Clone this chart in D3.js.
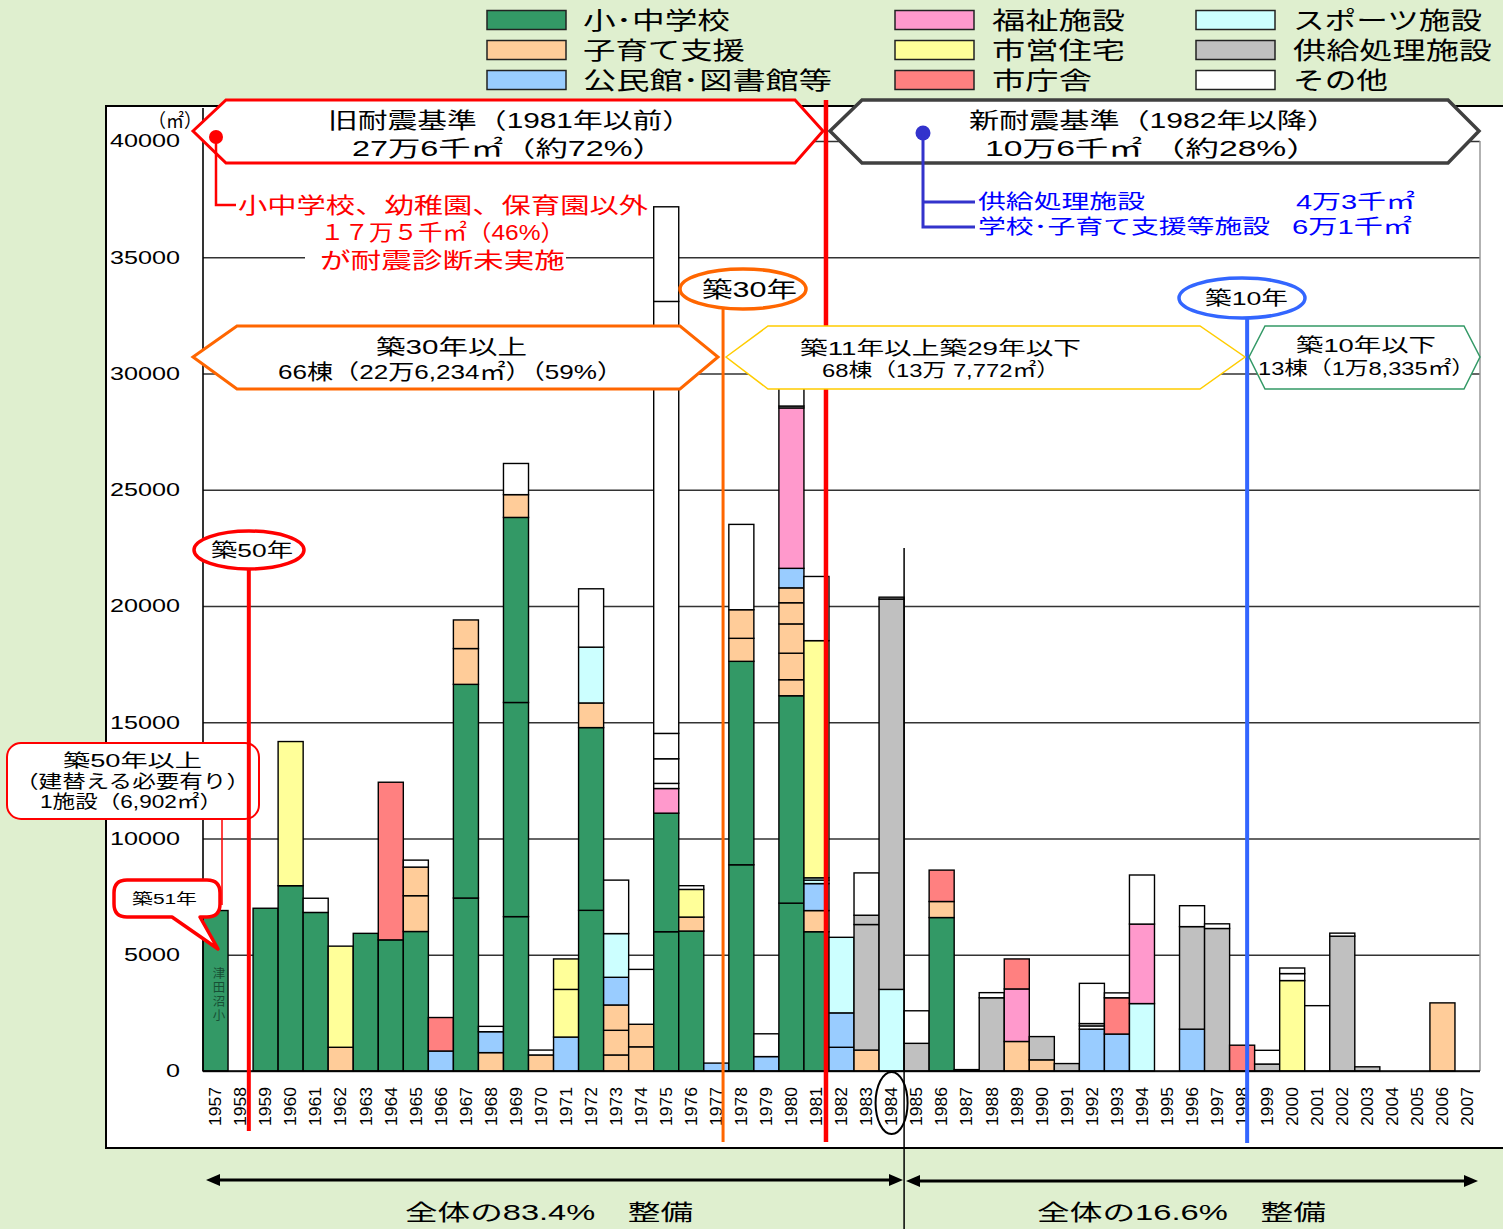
<!DOCTYPE html>
<html lang="ja">
<head>
<meta charset="utf-8">
<script src="https://cdn.jsdelivr.net/npm/d3@7"></script>
<style>
  html, body { margin: 0; padding: 0; background: #DFEFCF; }
  svg { display: block; }
  text { font-family: 'Liberation Sans', 'Noto Sans CJK JP', sans-serif; }
  .num { font-family: 'Liberation Sans', Arial, sans-serif; }
</style>
</head>
<body>
<script>
// 建築年度（横軸）
const years = ["1957","1958","1959","1960","1961","1962","1963","1964","1965","1966",
  "1967","1968","1969","1970","1971","1972","1973","1974","1975","1976","1977","1978",
  "1979","1980","1981","1982","1983","1984","1985","1986","1987","1988","1989","1990",
  "1991","1992","1993","1994","1995","1996","1997","1998","1999","2000","2001","2002",
  "2003","2004","2005","2006","2007"];

// 施設分類ごとの延床面積（㎡）。年度ごとに棟単位で積み上げる
const school = {1957:[6902],1959:[7000],1960:[7970],1961:[6820],1963:[5920],1964:[5640],
  1965:[6000],1967:[7440,9190],1969:[6640,9210,7960],1972:[6910,7860],1975:[5990,5100],
  1976:[6020],1978:[8870,8750],1980:[7220,8920],1981:[5990],1986:[6600]};
const childcare = {1962:[1020],1965:[1540,1230],1967:[1540,1230],1968:[790],1969:[980],
  1970:[690],1972:[1060],1973:[690,1060,1090],1974:[1040,970],1976:[600],1978:[990,1230],
  1980:[690,1140,1260,910,640],1981:[910],1983:[900],1986:[690],1989:[1270],1990:[480],
  2006:[2930]};
const community = {1966:[860],1968:[900],1971:[1460],1973:[1190],1977:[340],1979:[620],
  1980:[840],1981:[1160],1982:[1020,1480],1992:[1800],1993:[1590],1996:[1800]};
const sports = {1972:[2400],1973:[1880],1981:[150,100],1982:[3250],1984:[3510],1994:[2900]};
const welfare = {1975:[1060],1980:[6900],1989:[2260],1994:[3420]};
const housing = {1960:[6200],1962:[4350],1971:[2050,1310],1976:[1190],1981:[10200],2000:[3890]};
const cityHall = {1964:[6780],1966:[1440],1986:[1350],1989:[1290],1993:[1560],1998:[1110]};
const supply = {1983:[5400,400],1984:[16790,80],1985:[1190],1988:[3150],1990:[1000],
  1991:[320],1996:[4410],1997:[6130],1999:[300],2002:[5800],2003:[180]};
const other = {1961:[610],1965:[300],1968:[230],1969:[1340],1970:[210],1972:[2510],
  1973:[2300],1974:[2360],1975:[220,1060,1090,18580,4070],1976:[160],1978:[3670],
  1979:[980],1980:[80,1500],1981:[2760],1983:[1820],1985:[1400],1987:[60],1988:[220],
  1992:[140,100,1730],1993:[210],1994:[2110],1996:[900],1997:[200],1999:[590],
  2000:[300,240],2001:[2810],2002:[130]};

// 凡例の表示順（列ごと）と名称
const legendNames = ["小･中学校","子育て支援","公民館･図書館等","福祉施設","市営住宅","市庁舎",
  "スポーツ施設","供給処理施設","その他"];
const legendSeries = [school, childcare, community, welfare, housing, cityHall, sports, supply, other];
// 積み上げ順（下から）
const stackSeries = [school, childcare, community, sports, welfare, housing, cityHall, supply, other];
const yTicks = [0,5000,10000,15000,20000,25000,30000,35000,40000];

const colorOf = new Map([
  [school,"#339966"],[childcare,"#FFCC99"],[community,"#99CCFF"],[welfare,"#FF99CC"],
  [housing,"#FFFF99"],[cityHall,"#FF8080"],[sports,"#CCFFFF"],[supply,"#C0C0C0"],[other,"#FFFFFF"]
]);

const W = 1503, H = 1229;
const svg = d3.select("body").append("svg").attr("width", W).attr("height", H);
svg.append("rect").attr("width", W).attr("height", H).attr("fill", "#DFEFCF");

// 描画枠
svg.append("rect").attr("x",106).attr("y",106).attr("width",1430).attr("height",1042)
  .attr("fill","#fff").attr("stroke","#000").attr("stroke-width",2);

const x = d3.scaleBand().domain(years).range([203, 1480]).padding(0);
const y = d3.scaleLinear().domain([0, 40000]).range([1071, 141]);
const bw = x.bandwidth();

// 目盛線と縦軸ラベル
const yAxis = svg.append("g").attr("transform","translate(203,0)")
  .call(d3.axisLeft(y).tickValues(yTicks).tickSize(-(1480-203)).tickPadding(23).tickFormat(d3.format("d")));
yAxis.select(".domain").remove();
yAxis.selectAll(".tick line").attr("stroke","#333").attr("stroke-width",1.6);
yAxis.selectAll(".tick text").attr("class","num").attr("font-size",18).attr("fill","#000")
  .attr("textLength", d => String(d).length*14).attr("lengthAdjust","spacingAndGlyphs");

// プロット領域の右端
svg.append("line").attr("x1",1480).attr("x2",1480).attr("y1",y(40000)).attr("y2",y(0))
  .attr("stroke","#999").attr("stroke-width",1.5);

// 積み上げ棒
const segs = [];
years.forEach(yr => {
  let base = 0;
  stackSeries.forEach(s => {
    (s[yr] || []).forEach(v => {
      segs.push({year: yr, fill: colorOf.get(s), y0: base, y1: base + v});
      base += v;
    });
  });
});
svg.append("g").selectAll("rect").data(segs).join("rect")
  .attr("x", d => x(d.year)).attr("width", bw)
  .attr("y", d => y(d.y1)).attr("height", d => y(d.y0) - y(d.y1))
  .attr("fill", d => d.fill).attr("stroke","#000").attr("stroke-width",1.4);

// 軸線
svg.append("line").attr("x1",203).attr("x2",203).attr("y1",108).attr("y2",y(0))
  .attr("stroke","#000").attr("stroke-width",1.6);
svg.append("line").attr("x1",203).attr("x2",1480).attr("y1",y(0)).attr("y2",y(0))
  .attr("stroke","#000").attr("stroke-width",1.6);

// 年度ラベル（縦書き）
svg.append("g").selectAll("text").data(years).join("text")
  .attr("class","num")
  .attr("transform", d => `translate(${x(d)+bw/2},1087) rotate(-90)`)
  .attr("text-anchor","end").attr("dy","0.36em").attr("font-size",16)
  .attr("textLength",39).attr("lengthAdjust","spacingAndGlyphs").text(d => d);

// 1984年の囲み
svg.append("ellipse").attr("cx", x("1984")+bw/2).attr("cy",1103).attr("rx",16).attr("ry",31)
  .attr("fill","none").attr("stroke","#000").attr("stroke-width",2);

// 複数行の文字列を一つの text 要素にまとめて描く（各行は [文字列, 左端, 右端, 中心y]）
function block(lines, size, color) {
  const t = svg.append("text").attr("font-size", size).attr("fill", color || "#000");
  lines.forEach(([str, x1, x2, yc]) => {
    t.append("tspan").attr("x", x1).attr("y", yc + size*0.36)
      .attr("textLength", x2 - x1).attr("lengthAdjust","spacingAndGlyphs").text(str);
  });
  return t;
}
function hexagon(pts, stroke, sw) {
  svg.append("path").attr("d", d3.line()(pts) + "Z")
    .attr("fill","#fff").attr("stroke",stroke).attr("stroke-width",sw).attr("stroke-linejoin","miter");
}

block([["（㎡）", 148, 202, 121]], 19);

// 凡例
const legendCols = [[487,583],[895,992],[1196,1293]];
const legendRows = [20, 50, 80];
const legendRight = [730,745,832,1125,1125,1092,1482,1492,1388];
legendSeries.forEach((s, i) => {
  const [sx] = legendCols[Math.floor(i/3)];
  const cy = legendRows[i%3];
  svg.append("rect").attr("x",sx).attr("y",cy-9.5).attr("width",79).attr("height",19)
    .attr("fill",colorOf.get(s)).attr("stroke","#222").attr("stroke-width",1.5);
});
legendCols.forEach(([, tx], c) => {
  block(legendRows.map((cy, r) => [legendNames[c*3+r], tx, legendRight[c*3+r], cy]), 24);
});

// 津田沼小（1957年の棒内、縦書き）
svg.append("text").attr("x", x("1957")+bw/2+2).attr("y", 967)
  .attr("writing-mode","tb").attr("font-size",12.5).attr("letter-spacing",1.5)
  .attr("fill","#174F35").text("津田沼小");

// 1984年以降の区切り線
svg.append("line").attr("x1", x("1984")+bw).attr("x2", x("1984")+bw).attr("y1",548).attr("y2",1229)
  .attr("stroke","#000").attr("stroke-width",1.5);

// 築年数の境界線
const yearLine = (yr, frac) => x(yr) + bw*frac;
const markers = [
  {x: yearLine("1958", 0.83), y1: 569, y2: 1131, color: "#FF0000", w: 4},
  {x: yearLine("1977", 0.77), y1: 309, y2: 1142, color: "#FF6600", w: 3},
  {x: yearLine("1981", 0.88), y1: 100, y2: 1142, color: "#FF0000", w: 4.5},
  {x: yearLine("1998", 0.70), y1: 318, y2: 1143, color: "#3366FF", w: 4}
];
markers.forEach(m => {
  svg.append("line").attr("x1",m.x).attr("x2",m.x).attr("y1",m.y1).attr("y2",m.y2)
    .attr("stroke",m.color).attr("stroke-width",m.w);
});

// 耐震基準の六角形
hexagon([[193,131],[226,100],[795,100],[823,131],[795,163],[226,163]], "#FF0000", 3);
hexagon([[830,131],[862,100],[1448,100],[1479,131],[1448,163],[862,163]], "#404040", 3.5);
block([["旧耐震基準（1981年以前）", 328, 692, 120], ["27万6千㎡（約72%）", 352, 665, 148]], 22);
block([["新耐震基準（1982年以降）", 969, 1337, 120], ["10万6千㎡ （約28%）", 985, 1320, 148]], 22);

// 耐震診断未実施の注記
svg.append("circle").attr("cx",216).attr("cy",137).attr("r",7).attr("fill","#FF0000");
svg.append("path").attr("d","M216,137V205H236").attr("fill","none").attr("stroke","#FF0000").attr("stroke-width",2.5);
svg.append("rect").attr("x",305).attr("y",248).attr("width",261).attr("height",24).attr("fill","#fff");
block([["小中学校、幼稚園、保育園以外", 238, 648, 205],
       ["１７万５千㎡（46%）", 320, 565, 232],
       ["が耐震診断未実施", 320, 565, 260]], 22, "#FF0000");

// 新耐震基準の内訳
svg.append("circle").attr("cx",923).attr("cy",133).attr("r",7.5).attr("fill","#3333CC");
svg.append("path").attr("d","M923,133V227H975M923,202H975").attr("fill","none")
  .attr("stroke","#3333CC").attr("stroke-width",3);
block([["供給処理施設", 978, 1145, 202], ["学校･子育て支援等施設", 978, 1270, 227]], 20, "#0000FF");
block([["4万3千㎡", 1296, 1415, 202], ["6万1千㎡", 1292, 1412, 227]], 20, "#0000FF");

// 築年数区分の六角形（境界線の上に重ねる）
hexagon([[193,357],[237,326],[680,326],[718,357],[680,389],[237,389]], "#FF6600", 3);
hexagon([[726,357],[768,326],[1200,326],[1245,357],[1200,389],[768,389]], "#FFCC00", 1.5);
hexagon([[1249,357],[1265,326],[1464,326],[1480,357],[1464,389],[1265,389]], "#339966", 1.5);
block([["築30年以上", 376, 527, 346], ["66棟（22万6,234㎡）（59%）", 278, 623, 371]], 21);
block([["築11年以上築29年以下", 800, 1081, 348], ["68棟（13万 7,772㎡）", 822, 1060, 370]], 19);
block([["築10年以下", 1296, 1436, 345], ["13棟（1万8,335㎡）", 1258, 1475, 368]], 19);

// 築50年以上の吹き出し
svg.append("rect").attr("x",7).attr("y",743).attr("width",252).attr("height",76).attr("rx",14)
  .attr("fill","#fff").attr("stroke","#FF0000").attr("stroke-width",2);
block([["築50年以上", 63, 202, 761],
       ["（建替える必要有り）", 15, 250, 782],
       ["1施設（6,902㎡）", 40, 222, 802]], 18);
svg.append("line").attr("x1",222).attr("x2",222).attr("y1",819).attr("y2",905)
  .attr("stroke","#FF0000").attr("stroke-width",1.5);
// 築50年線は吹き出しの上を通る
svg.append("line").attr("x1",markers[0].x).attr("x2",markers[0].x).attr("y1",743).attr("y2",819)
  .attr("stroke","#FF0000").attr("stroke-width",4);

// 築51年の吹き出し
svg.append("path")
  .attr("d","M127,880H207Q220,880 220,893V904Q220,917 207,917H200L218,949L172,917H127Q114,917 114,904V893Q114,880 127,880Z")
  .attr("fill","#fff").attr("stroke","#FF0000").attr("stroke-width",3.5).attr("stroke-linejoin","round");
block([["築51年", 132, 197, 899]], 15);

// 築年数の見出し
function badge(cx, cy, rx, ry, color, str, x1, x2, size) {
  svg.append("ellipse").attr("cx",cx).attr("cy",cy).attr("rx",rx).attr("ry",ry)
    .attr("fill","#fff").attr("stroke",color).attr("stroke-width",3.5);
  block([[str, x1, x2, cy]], size);
}
badge(249, 550, 55, 19, "#FF0000", "築50年", 211, 293, 19);
badge(743, 289, 63, 20, "#FF6600", "築30年", 702, 797, 22);
badge(1242, 298, 63, 20, "#3366FF", "築10年", 1205, 1288, 19);

// 整備割合の矢印
function doubleArrow(x1, x2, yy) {
  svg.append("line").attr("x1",x1+8).attr("x2",x2-8).attr("y1",yy).attr("y2",yy)
    .attr("stroke","#000").attr("stroke-width",3);
  svg.append("path").attr("d",`M${x1},${yy}L${x1+14},${yy-6}L${x1+14},${yy+6}Z`).attr("fill","#000");
  svg.append("path").attr("d",`M${x2},${yy}L${x2-14},${yy-6}L${x2-14},${yy+6}Z`).attr("fill","#000");
}
doubleArrow(206, 903, 1180);
doubleArrow(906, 1478, 1181);
block([["全体の83.4%　整備", 405, 693, 1212]], 22);
block([["全体の16.6%　整備", 1037, 1326, 1212]], 22);
</script>
</body>
</html>
